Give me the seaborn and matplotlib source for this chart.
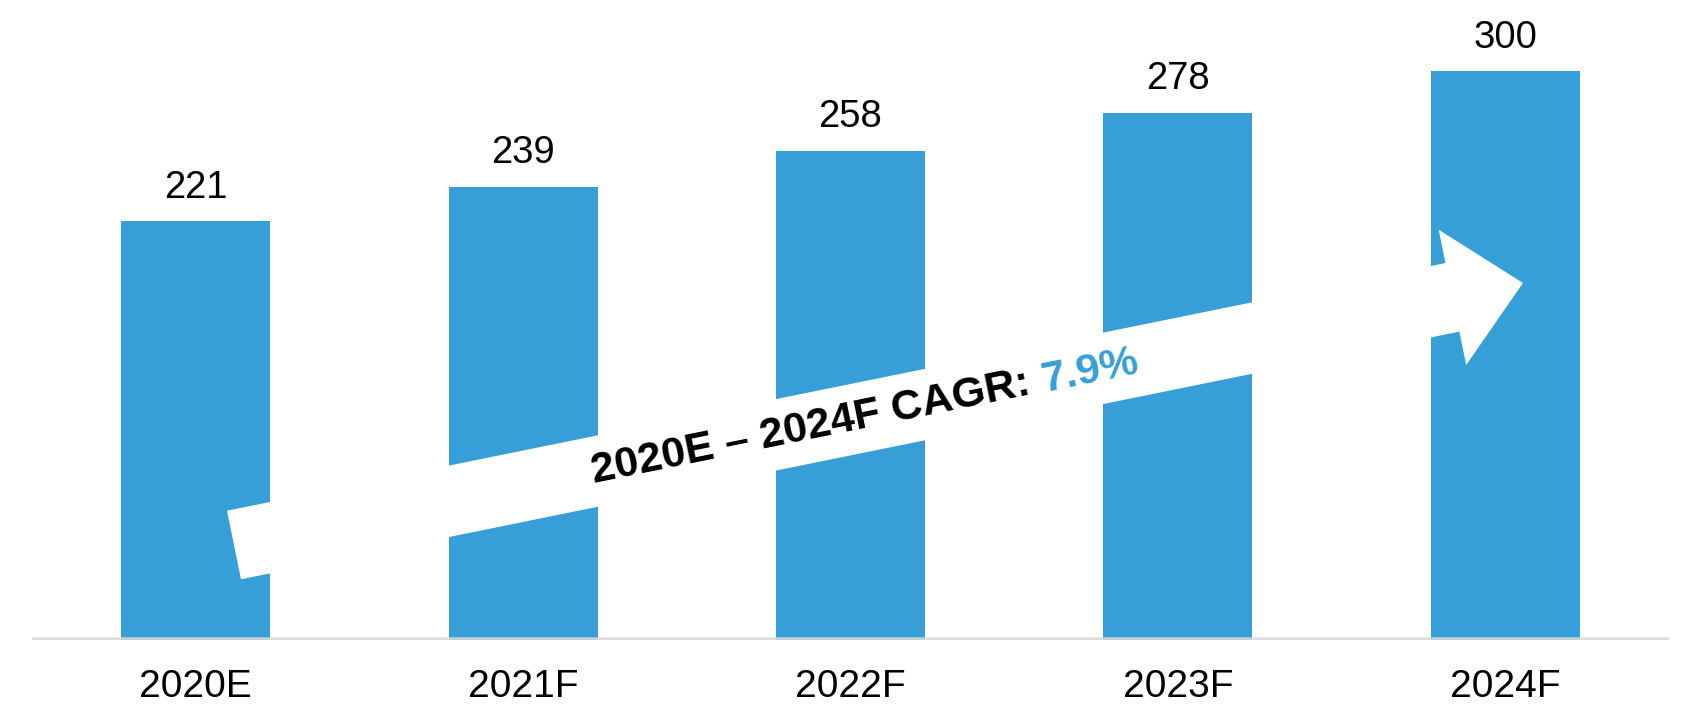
import numpy as np
import pandas as pd
import matplotlib
matplotlib.use("Agg")
import matplotlib.pyplot as plt
from matplotlib.patches import Polygon
from matplotlib.transforms import IdentityTransform
import seaborn as sns

# data
years = ["2020E", "2021F", "2022F", "2023F", "2024F"]
values = [221, 239, 258, 278, 300]
cagr_label = "2020E \u2013 2024F CAGR:"
cagr_value = "7.9%"

BLUE = "#379fd8"
W, H = 1683, 709

sns.set_style("white")
plt.rcParams["font.family"] = ["Liberation Sans", "DejaVu Sans"]

df = pd.DataFrame({"year": years, "value": values})

fig = plt.figure(figsize=(W / 100, H / 100), dpi=100)
ax = fig.add_axes([32 / W, 69 / H, (1669 - 32) / W, 640 / H])

sns.barplot(data=df, x="year", y="value", color=BLUE, saturation=1,
            width=0.455, edgecolor="none", ax=ax)
ax.bar_label(ax.containers[0], labels=[str(v) for v in values],
             padding=11, fontsize=27.5, color="black")

ax.set_xlim(-0.5, 4.5)
ax.set_ylim(0, 337.4)
ax.axhline(0, color="#d9d9d9", lw=4, alpha=0.85, zorder=5)
sns.despine(ax=ax, left=True, bottom=True)
ax.set_yticks([])
ax.set_xlabel("")
ax.set_ylabel("")
ax.tick_params(axis="x", length=0, pad=21, labelsize=28, labelcolor="black")

# growth arrow (pixel coords, origin top-left -> flipped to display)
def px(p):
    return np.array([p[0], H - p[1]])

tail = px((234, 545))
tip = px((1523, 283))
u = (tip - tail) / np.linalg.norm(tip - tail)
n = np.array([-u[1], u[0]])
hw, hhw, hl = 35, 69, 72
base = tip - u * hl
pts = [tail + n * hw, base + n * hw, base + n * hhw, tip,
       base - n * hhw, base - n * hw, tail - n * hw]
arrow = Polygon(pts, closed=True, transform=IdentityTransform(),
                facecolor="white", edgecolor="none", zorder=6)
fig.add_artist(arrow)

angle = np.degrees(np.arctan2(u[1], u[0]))
split = tail + u * ((1036 - 234) / u[0])
fig.text(split[0] - u[0] * 6, split[1] - u[1] * 6, cagr_label,
         transform=IdentityTransform(), rotation=angle, rotation_mode="anchor",
         ha="right", va="center", fontsize=31, fontweight="bold",
         color="black", zorder=7)
fig.text(split[0] + u[0] * 6, split[1] + u[1] * 6, cagr_value,
         transform=IdentityTransform(), rotation=angle, rotation_mode="anchor",
         ha="left", va="center", fontsize=31, fontweight="bold",
         color=BLUE, zorder=7)

fig.savefig("out.png", dpi=100)
